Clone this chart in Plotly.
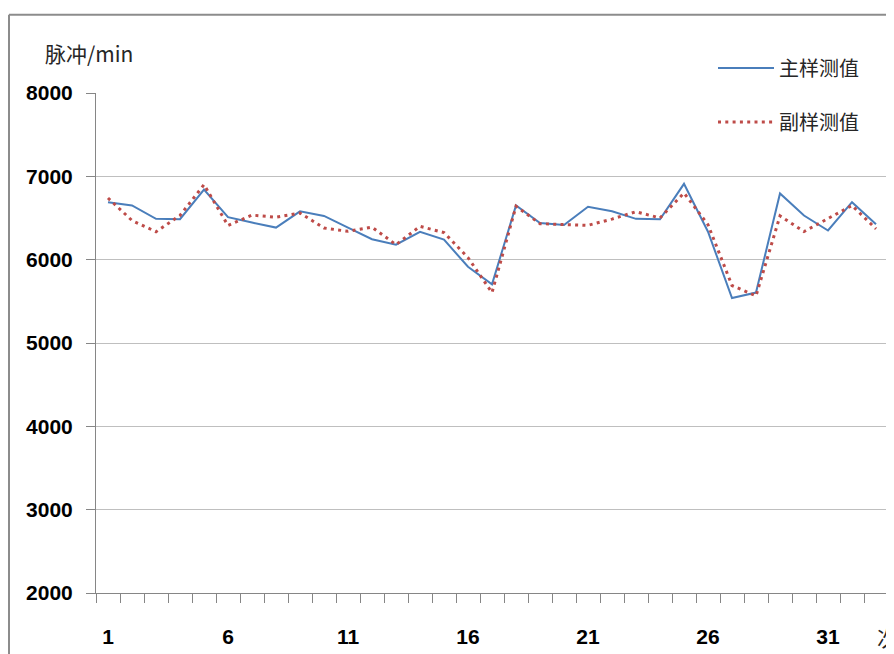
import plotly.graph_objects as go

runs = list(range(1, 34))
main_vals = [6690, 6650, 6490, 6485, 6840, 6510, 6445, 6385, 6580, 6525, 6385,
             6245, 6180, 6335, 6240, 5915, 5705, 6650, 6440, 6415, 6635, 6580,
             6490, 6485, 6910, 6335, 5540, 5605, 6795, 6530, 6350, 6690, 6425]
sub_vals = [6740, 6470, 6335, 6530, 6900, 6410, 6535, 6510, 6560, 6380, 6340,
            6390, 6180, 6400, 6325, 6025, 5605, 6640, 6432, 6424, 6412, 6487,
            6575, 6500, 6800, 6420, 5690, 5565, 6525, 6337, 6490, 6650, 6370]
x_tick_vals = [1, 6, 11, 16, 21, 26, 31]
y_tick_vals = [2000, 3000, 4000, 5000, 6000, 7000, 8000]
series_names = ["主样测值", "副样测值"]
y_title = "脉冲/min"
x_title = "次"

OFF = 8  # page body margin
W, H = 894 - OFF, 654 - OFF
L, R, T, B = 96 - OFF, 6, 93 - OFF, 56
pw, ph = W - L - R, H - T - B

def px_x(x):  # x in window pixels
    return (x - OFF - L) / pw

def px_y(y):  # y in window pixels
    return (H + OFF - B - y) / ph

fig = go.Figure()
fig.add_trace(go.Scatter(x=runs, y=main_vals, mode="lines", name=series_names[0],
                         legendgroup="a",
                         line=dict(color="#4A7EBB", width=2)))
fig.add_trace(go.Scatter(x=runs, y=sub_vals, mode="lines", name=series_names[1],
                         legendgroup="b",
                         line=dict(color="#BE4B48", width=3, dash="3px,4.3px")))

axis_col = "#868686"
grid_col = "#BFBFBF"
tick_font = dict(family="Liberation Sans, Arial, sans-serif", size=21,
                 color="#000000", weight="bold")
cjk_font = dict(family="Noto Sans CJK SC", size=20, color="#262626")

fig.update_layout(
    width=W, height=H,
    margin=dict(l=L, r=R, t=T, b=B),
    paper_bgcolor="white", plot_bgcolor="white",
    showlegend=True,
    legend=dict(x=px_x(713), y=px_y(48), xanchor="left", yanchor="top",
                bgcolor="rgba(0,0,0,0)", borderwidth=0,
                font=cjk_font,
                itemwidth=56, traceorder="grouped", tracegroupgap=25),
    xaxis=dict(range=[0.5, 33.5], tickmode="array", tickvals=x_tick_vals,
               ticktext=[str(v) for v in x_tick_vals],
               ticks="", showgrid=False, zeroline=False,
               showline=True, linecolor=axis_col, linewidth=1,
               tickfont=tick_font, ticklabelstandoff=25,
               minor=dict(tick0=0.5, dtick=1, ticks="outside", ticklen=9,
                          tickcolor=axis_col, tickwidth=1, showgrid=False)),
    yaxis=dict(range=[2000, 8000], tickmode="array", tickvals=y_tick_vals,
               ticktext=[str(v) for v in y_tick_vals],
               ticks="outside", ticklen=9, tickcolor=axis_col, tickwidth=1,
               showgrid=True, gridcolor=grid_col, gridwidth=1, zeroline=False,
               showline=True, linecolor=axis_col, linewidth=1,
               tickfont=tick_font, ticklabelstandoff=9),
    annotations=[
        dict(text=y_title, xref="paper", yref="paper", x=px_x(43), y=px_y(53),
             xanchor="left", yanchor="middle", showarrow=False,
             font=dict(family="Noto Sans CJK SC", size=21, color="#262626")),
        dict(text=x_title, xref="paper", yref="paper", x=px_x(875), y=px_y(642),
             xanchor="left", yanchor="middle", showarrow=False,
             font=dict(family="Noto Sans CJK SC", size=21, color="#262626")),
    ],
    shapes=[
        dict(type="line", xref="paper", yref="paper", x0=px_x(9), x1=px_x(900),
             y0=px_y(14), y1=px_y(14), line=dict(color="#8C8C8C", width=2)),
        dict(type="line", xref="paper", yref="paper", x0=px_x(9), x1=px_x(9),
             y0=px_y(14), y1=px_y(660), line=dict(color="#8C8C8C", width=2)),
    ],
)

fig.write_html("out.html")
